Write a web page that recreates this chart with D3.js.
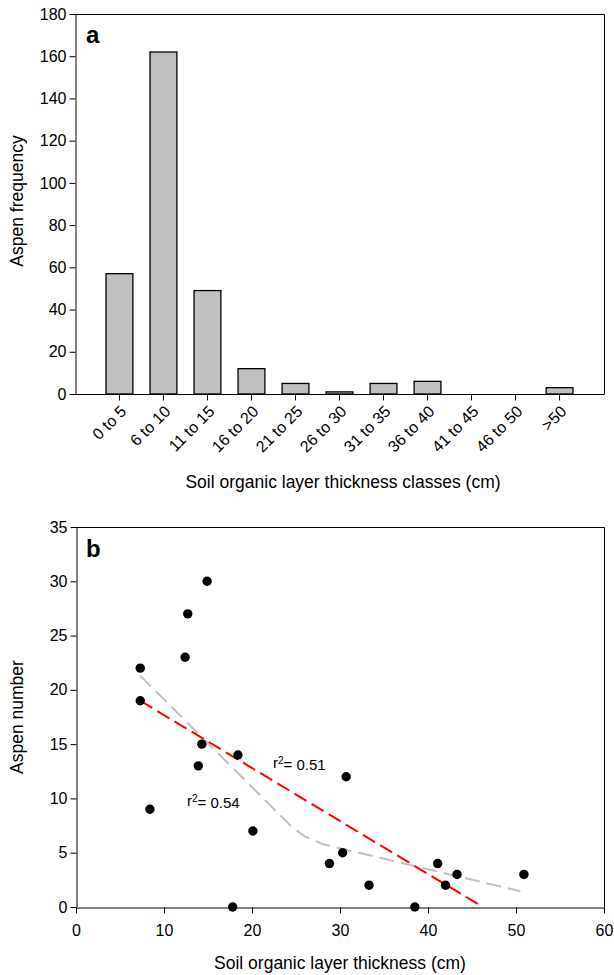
<!DOCTYPE html>
<html>
<head>
<meta charset="utf-8">
<script src="https://cdn.jsdelivr.net/npm/d3@7"></script>
<style>
  body { margin: 0; background: #fff; }
  svg { display: block; font-family: "Liberation Sans", Arial, sans-serif; }
  .axis path, .axis line { stroke: #000; stroke-width: 1; }
  .axis text { fill: #000; font-size: 16px; font-family: "Liberation Sans", Arial, sans-serif; }
</style>
</head>
<body>
<svg id="chart" width="614" height="975"></svg>
<script>
// Panel a: aspen frequency by soil organic layer thickness class
const classLabels = ["0 to 5", "6 to 10", "11 to 15", "16 to 20", "21 to 25", "26 to 30",
                     "31 to 35", "36 to 40", "41 to 45", "46 to 50", ">50"];
const classFrequency = [57, 162, 49, 12, 5, 1, 5, 6, 0, 0, 3];
const freqTicks = [0, 20, 40, 60, 80, 100, 120, 140, 160, 180];

// Panel b: aspen number vs soil organic layer thickness
const thickness = [7.3, 7.3, 8.4, 12.4, 12.7, 14.9, 14.3, 13.9, 18.4, 17.8,
                   20.1, 28.8, 30.3, 30.7, 33.3, 38.5, 41.1, 42.0, 43.3, 50.9];
const aspenNumber = [22, 19, 9, 23, 27, 30, 15, 13, 14, 0,
                     7, 4, 5, 12, 2, 0, 4, 2, 3, 3];
const numberTicks = [0, 5, 10, 15, 20, 25, 30, 35];
const thicknessTicks = [0, 10, 20, 30, 40, 50, 60];

// Linear fit (r2 = 0.51)
const linearIntercept = 22.56;
const linearSlope = -0.488;
const linearRange = [7.3, 46.2];

// Segmented fit (r2 = 0.54)
const curveX = [7.3, 24.5, 26, 28, 50.5];
const curveY = [21.3, 7.4, 6.5, 5.8, 1.45];

const svg = d3.select("#chart");

// ---------- Panel a ----------
const A = { left: 75, right: 604, top: 14, bottom: 394 };

const xA = d3.scaleBand()
  .domain(classLabels)
  .range([A.left, A.right])
  .paddingInner(0.39)
  .paddingOuter(0.705);

const yA = d3.scaleLinear().domain([0, 180]).range([A.bottom, A.top]);

const gA = svg.append("g");

gA.selectAll("rect.bar")
  .data(classLabels.map((c, i) => ({ c, v: classFrequency[i] })))
  .join("rect")
  .attr("class", "bar")
  .attr("x", d => xA(d.c))
  .attr("width", xA.bandwidth())
  .attr("y", d => yA(d.v))
  .attr("height", d => yA(0) - yA(d.v))
  .attr("fill", d => d.v > 0 ? "#c0c0c0" : "none")
  .attr("stroke", d => d.v > 0 ? "#000" : "none")
  .attr("stroke-width", 1.3);

// frame top and right
gA.append("path")
  .attr("d", `M${A.left},${A.top + 0.5}H${A.right + 0.5}V${A.bottom}`)
  .attr("fill", "none").attr("stroke", "#000").attr("stroke-width", 1);

gA.append("g")
  .attr("class", "axis")
  .attr("transform", `translate(${A.left + 0.5},0)`)
  .call(d3.axisLeft(yA).tickValues(freqTicks).tickSize(6).tickSizeOuter(0).tickPadding(3));

const xAxisA = gA.append("g")
  .attr("class", "axis")
  .attr("transform", `translate(0,${A.bottom + 0.5})`)
  .call(d3.axisBottom(xA).tickSize(6).tickSizeOuter(0));
xAxisA.select(".domain").attr("d", `M${A.left},0H${A.right + 0.5}`);
xAxisA.selectAll(".tick text")
  .attr("text-anchor", "end")
  .attr("dy", "0.35em")
  .attr("font-size", "14px")
  .attr("transform", "translate(4,14) rotate(-45)")
  .attr("y", 0).attr("x", 0);

gA.append("text")
  .attr("x", 86).attr("y", 43)
  .attr("font-size", "24px").attr("font-weight", "bold")
  .text("a");

gA.append("text")
  .attr("transform", `translate(23,${(A.top + A.bottom) / 2 - 3}) rotate(-90)`)
  .attr("text-anchor", "middle")
  .attr("font-size", "17.5px")
  .text("Aspen frequency");

gA.append("text")
  .attr("x", 343).attr("y", 488)
  .attr("text-anchor", "middle")
  .attr("font-size", "17.5px")
  .text("Soil organic layer thickness classes (cm)");

// ---------- Panel b ----------
const B = { left: 76, right: 604, top: 527, bottom: 907 };

const xB = d3.scaleLinear().domain([0, 60]).range([B.left, B.right]);
const yB = d3.scaleLinear().domain([0, 35]).range([B.bottom, B.top]);

const gB = svg.append("g");

gB.append("path")
  .attr("d", `M${B.left},${B.top + 0.5}H${B.right + 0.5}V${B.bottom}`)
  .attr("fill", "none").attr("stroke", "#000").attr("stroke-width", 1);

gB.append("g")
  .attr("class", "axis")
  .attr("transform", `translate(${B.left + 0.5},0)`)
  .call(d3.axisLeft(yB).tickValues(numberTicks).tickSize(6).tickSizeOuter(0).tickPadding(3));

gB.append("g")
  .attr("class", "axis")
  .attr("transform", `translate(0,${B.bottom + 0.5})`)
  .call(d3.axisBottom(xB).tickValues(thicknessTicks).tickSize(6).tickSizeOuter(0).tickPadding(11));

// fitted lines
gB.append("clipPath").attr("id", "plotB")
  .append("rect")
  .attr("x", B.left).attr("y", B.top)
  .attr("width", B.right - B.left).attr("height", B.bottom - B.top);

const curvePts = curveX.map((x, i) => [x, curveY[i]]);
gB.append("path")
  .attr("d", d3.line().x(d => xB(d[0])).y(d => yB(d[1])).curve(d3.curveLinear)(curvePts))
  .attr("fill", "none")
  .attr("stroke", "#c0c0c0")
  .attr("stroke-width", 2)
  .attr("stroke-linejoin", "round")
  .attr("stroke-dasharray", "15,7");

const linePts = linearRange.map(x => [x, linearIntercept + linearSlope * x]);
gB.append("path")
  .attr("clip-path", "url(#plotB)")
  .attr("d", d3.line().x(d => xB(d[0])).y(d => yB(d[1]))(linePts))
  .attr("fill", "none")
  .attr("stroke", "#ff0000")
  .attr("stroke-width", 2)
  .attr("stroke-dasharray", "14,6");

gB.selectAll("circle.pt")
  .data(thickness.map((x, i) => ({ x, y: aspenNumber[i] })))
  .join("circle")
  .attr("class", "pt")
  .attr("cx", d => xB(d.x))
  .attr("cy", d => yB(d.y))
  .attr("r", 4.7)
  .attr("fill", "#000");

function r2Label(x, y, val) {
  const t = gB.append("text").attr("x", x).attr("y", y).attr("font-size", "15px");
  t.append("tspan").text("r");
  t.append("tspan").attr("dy", "-0.45em").attr("font-size", "10px").text("2");
  t.append("tspan").attr("dy", "0.45em").text("= " + val);
}
r2Label(273, 768, "0.51");
r2Label(187, 806, "0.54");

gB.append("text")
  .attr("x", 86).attr("y", 557)
  .attr("font-size", "24px").attr("font-weight", "bold")
  .text("b");

gB.append("text")
  .attr("transform", `translate(23,${(B.top + B.bottom) / 2}) rotate(-90)`)
  .attr("text-anchor", "middle")
  .attr("font-size", "17.5px")
  .text("Aspen number");

gB.append("text")
  .attr("x", 340).attr("y", 969)
  .attr("text-anchor", "middle")
  .attr("font-size", "17.5px")
  .text("Soil organic layer thickness (cm)");
</script>
</body>
</html>
